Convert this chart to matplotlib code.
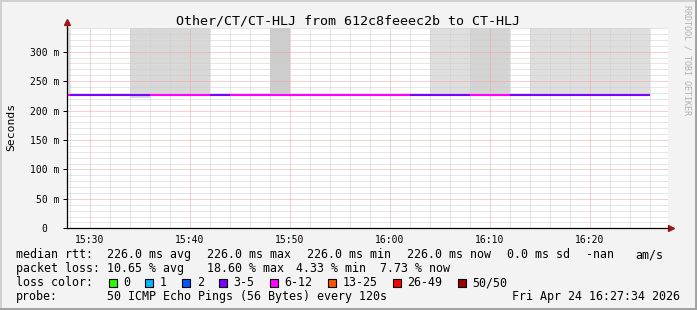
import matplotlib
matplotlib.use('Agg')
import matplotlib.pyplot as plt
from matplotlib.lines import Line2D
from matplotlib.patches import Rectangle

# RRD step end times (120 s steps) and values
step_end = ['15:28', '15:30', '15:32', '15:34', '15:36', '15:38', '15:40', '15:42',
            '15:44', '15:46', '15:48', '15:50', '15:52', '15:54', '15:56', '15:58',
            '16:00', '16:02', '16:04', '16:06', '16:08', '16:10', '16:12', '16:14',
            '16:16', '16:18', '16:20', '16:22', '16:24', '16:26']
median_rtt = [0.226] * 30
lost_pings = [7, 4, 3, 4, 5, 8, 9, 6, 5, 7, 6, 8, 9, 7, 6, 7, 8, 6,
              4, 5, 4, 7, 8, 4, 3, 5, 4, 3, 4, 4]
# smoke: lower / upper edge (s) and shade, None = no smoke
smoke_lo = [0.224, None, None, None, 0.222, 0.224, 0.224, 0.224, None, None,
            0.226, 0.224, None, None, None, None, None, None, None, 0.224,
            0.224, 0.224, 0.224, None, 0.224, 0.224, 0.224, 0.224, 0.224, 0.224]
smoke_hi = [0.6, None, None, None, 0.6, 0.6, 0.6, 0.6, None, None,
            0.230, 0.6, None, None, None, None, None, None, None, 0.6,
            0.6, 0.6, 0.6, None, 0.6, 0.6, 0.6, 0.6, 0.6, 0.6]
smoke_shade = ['#dddddd', '', '', '', '#d8d8d8', '#d8d8d8', '#d8d8d8', '#d8d8d8', '', '',
               '#e2e2e2', '#cccccc', '', '', '', '', '', '', '', '#dedede',
               '#dedede', '#d4d4d4', '#d4d4d4', '', '#dedede', '#dedede', '#dedede',
               '#dedede', '#dedede', '#dedede']

x_ticks = ['15:30', '15:40', '15:50', '16:00', '16:10', '16:20']
y_ticks = [0, 0.05, 0.10, 0.15, 0.20, 0.25, 0.30]
y_labels = ['0  ', '50 m', '100 m', '150 m', '200 m', '250 m', '300 m']

loss_names = ['0', '1', '2', '3-5', '6-12', '13-25', '26-49', '50/50']
loss_colors = ['#26ff00', '#00b8ff', '#0059ff', '#7e00ff', '#ff00ff', '#ff5500', '#ff0000', '#a10000']


def minutes(hhmm):
    h, m = hhmm.split(':')
    return int(h) * 60 + int(m)


def loss_color(n):
    if n == 0:
        return loss_colors[0]
    if n == 1:
        return loss_colors[1]
    if n == 2:
        return loss_colors[2]
    if n <= 5:
        return loss_colors[3]
    if n <= 12:
        return loss_colors[4]
    if n <= 25:
        return loss_colors[5]
    if n < 50:
        return loss_colors[6]
    return loss_colors[7]


W, H = 697, 310
fig = plt.figure(figsize=(W / 100, H / 100), dpi=100, facecolor='#f3f3f3')
mono = 'DejaVu Sans Mono'

ax = fig.add_axes([67 / W, (H - 228.3) / H, (668 - 67) / W, (228.3 - 28) / H])
ax.set_facecolor('white')

ends = [minutes(t) for t in step_end]
starts = [e - 2 for e in ends]

# smoke
for s, lo, hi, c in zip(starts, smoke_lo, smoke_hi, smoke_shade):
    if lo is None:
        continue
    ax.bar(s, hi - lo, width=2, bottom=lo, align='edge', color=c, linewidth=0, zorder=1)

# median line coloured by loss
for s, e, v, n in zip(starts, ends, median_rtt, lost_pings):
    ax.plot([s, e], [v, v], color=loss_color(n), linewidth=1.5,
            solid_capstyle='butt', zorder=4)

ax.set_xlim(minutes('15:27') + 0.7, minutes('16:27') + 0.8)
ax.set_ylim(0, 0.3403)

# grid
for m in range(minutes('15:28'), minutes('16:28'), 2):
    major = m % 10 == 0
    ax.axvline(m, color='#f4a0a0' if major else '#cfcfcf', linewidth=0.72,
               linestyle=(0, (1, 1)), zorder=3)
for i in range(1, 35):
    v = i * 0.01
    major = i % 5 == 0
    ax.axhline(v, color='#f4a0a0' if major else '#cfcfcf', linewidth=0.72,
               linestyle=(0, (1, 1)), zorder=3)

ax.set_xticks([minutes(t) for t in x_ticks])
ax.set_xticklabels(x_ticks, fontsize=7, family=mono)
ax.set_yticks(y_ticks)
ax.set_yticklabels(y_labels, fontsize=7, family=mono)
ax.tick_params(axis='x', length=0, pad=4.5)
ax.tick_params(axis='y', length=3, width=0.72, pad=2.2)

for sp in ['top', 'right']:
    ax.spines[sp].set_visible(False)
for sp in ['left', 'bottom']:
    ax.spines[sp].set_linewidth(0.9)
    ax.spines[sp].set_zorder(5)

# axis extensions and arrows
ax.add_line(Line2D([0, 0], [1, 1.02], transform=ax.transAxes, color='black',
                   linewidth=0.9, clip_on=False))
ax.plot([0], [1.03], transform=ax.transAxes, marker='^', markersize=5,
        color='#9a1a1a', clip_on=False)
ax.plot([1.005], [0], transform=ax.transAxes, marker='>', markersize=5,
        color='#9a1a1a', clip_on=False)


def ftext(x, y, s, **kw):
    fig.text(x / W, 1 - y / H, s, family=mono, **kw)


ftext(348, 24, 'Other/CT/CT-HLJ from 612c8feeec2b to CT-HLJ', fontsize=9.6,
      ha='center', va='baseline')
ftext(11, 127, 'Seconds', fontsize=8.2, rotation=90, ha='center', va='center')
ftext(687, 60, 'RRDTOOL / TOBI OETIKER', fontsize=6, rotation=270,
      ha='center', va='center', color='#b0b0b0')

fs = 8.35
row1 = [(16, 'median rtt:'), (107.3, '226.0 ms avg'), (207.3, '226.0 ms max'),
        (307.3, '226.0 ms min'), (407.3, '226.0 ms now'), (507.3, '0.0 ms sd'),
        (586, '-nan'), (635, 'am/s')]
row2 = [(16, 'packet loss:'), (107.3, '10.65 % avg'), (207.3, '18.60 % max'),
        (296, '4.33 % min'), (380, '7.73 % now')]
for x, s in row1:
    ftext(x, 258.3, s, fontsize=fs, va='baseline')
for x, s in row2:
    ftext(x, 272, s, fontsize=fs, va='baseline')

ftext(16, 286, 'loss color:', fontsize=fs, va='baseline')
bx = 108.5
for name, col in zip(loss_names, loss_colors):
    fig.add_artist(Rectangle((bx / W, 1 - 286.5 / H), 8 / W, 8 / H,
                             transform=fig.transFigure, facecolor=col,
                             edgecolor='black', linewidth=0.8))
    ftext(bx + 14.5, 286, name, fontsize=fs, va='baseline')
    bx = bx + 14.5 + len(name) * 7.02 + 15.3

ftext(16, 299.7, 'probe:', fontsize=fs, va='baseline')
ftext(107.3, 299.7, '50 ICMP Echo Pings (56 Bytes) every 120s', fontsize=fs, va='baseline')
ftext(680, 299.7, 'Fri Apr 24 16:27:34 2026', fontsize=fs, va='baseline', ha='right')

# 3d frame
fig.add_artist(Line2D([0, 0, 1], [0, 1, 1], transform=fig.transFigure,
                      color='#d0d0d0', linewidth=2.2))
fig.add_artist(Line2D([0, 1, 1], [0, 0, 1], transform=fig.transFigure,
                      color='#a0a0a0', linewidth=3.5))

fig.savefig('out.png', dpi=100, facecolor=fig.get_facecolor())
